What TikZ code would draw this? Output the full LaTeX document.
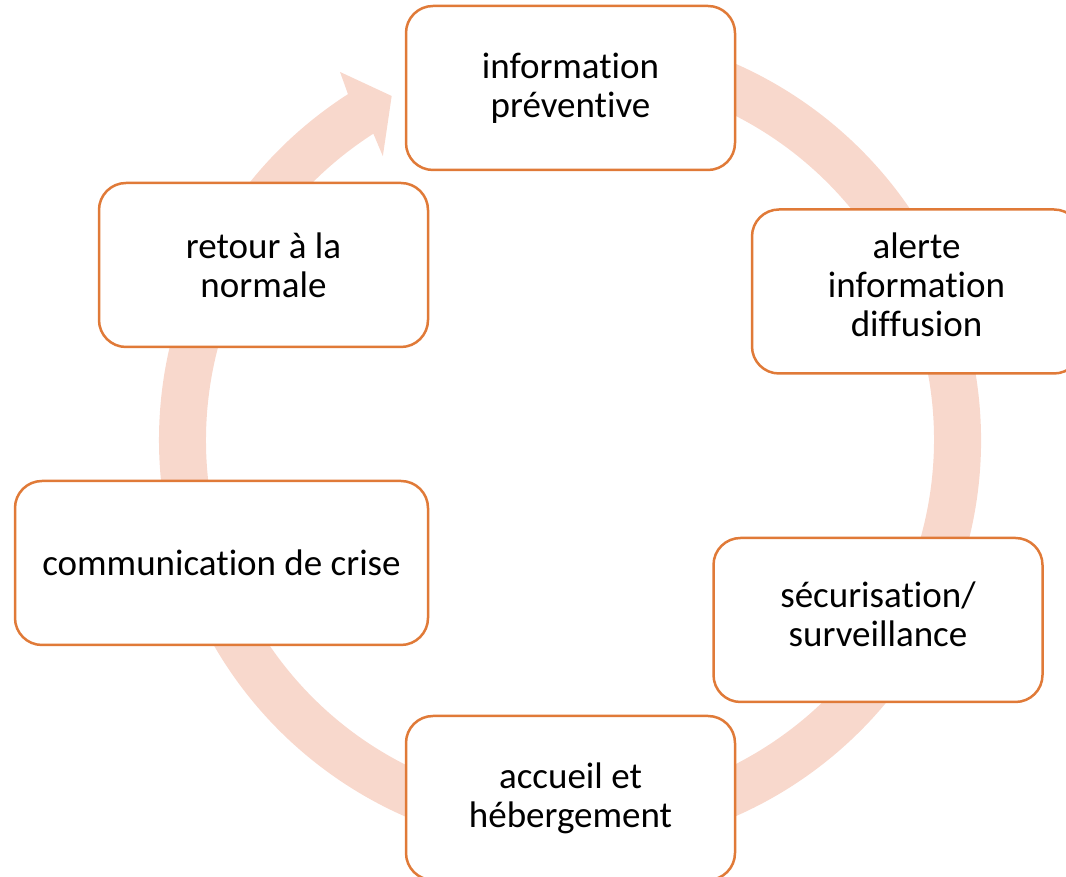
\documentclass[tikz,border=0pt]{standalone}
\usepackage{fontspec}
\setmainfont{Carlito}[Ligatures=NoCommon]
\definecolor{ringc}{HTML}{F8D8CC}
\definecolor{boxc}{HTML}{E07A38}
\begin{document}
\begin{tikzpicture}[x=1pt,y=1pt,
  boxtext/.style={align=center, inner sep=0pt, font=\fontsize{37}{39}\selectfont},
  stepbox/.style={draw=boxc, line width=2.5pt, fill=white, rounded corners=27pt,
    minimum width=329pt, minimum height=164pt, boxtext}]
\useasboundingbox (0,0) rectangle (1066,877);
\clip (0,0) rectangle (1066,877);
\begin{scope}[shift={(570,437)}]
\fill[ringc] (100:411) arc[start angle=100, end angle=-237.3, radius=411]
  -- (-238:434) -- (117.4:387.5) -- (-236.6:340) -- (-237.3:364)
  arc[start angle=-237.3, end angle=100, radius=364] -- cycle;
\end{scope}
\node[stepbox] (n1) at (570.5,789) {information\\préventive};
\node[stepbox, label={[boxtext, yshift=7pt]center:alerte\\information\\diffusion}] (n2) at (916.5,585.5) {};
\node[stepbox, label={[boxtext, yshift=6pt]center:sécurisation/\\surveillance}] (n3) at (878,257) {};
\node[stepbox] (n4) at (570.5,79) {accueil et\\hébergement};
\node[stepbox, minimum width=413pt] (n5) at (221.5,314) {communication de crise};
\node[stepbox] (n6) at (263.5,612) {retour à la\\normale};
\end{tikzpicture}
\end{document}
